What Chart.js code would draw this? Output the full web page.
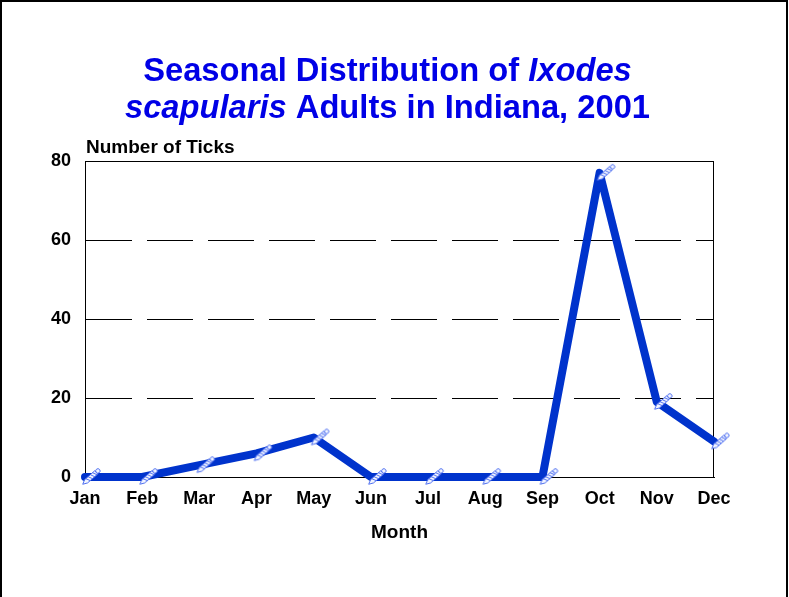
<!DOCTYPE html>
<html>
<head>
<meta charset="utf-8">
<title>Seasonal Distribution of Ixodes scapularis Adults in Indiana, 2001</title>
<script src="https://cdn.jsdelivr.net/npm/chart.js@4/dist/chart.umd.min.js"></script>
<style>
  html, body { margin: 0; padding: 0; background: #fff; }
  #wrap { position: relative; width: 789px; height: 597px; }
</style>
</head>
<body>
<div id="wrap"><canvas id="tickChart" width="789" height="597"></canvas></div>
<script>
const months = ['Jan', 'Feb', 'Mar', 'Apr', 'May', 'Jun', 'Jul', 'Aug', 'Sep', 'Oct', 'Nov', 'Dec'];
const tickCounts = [0, 0, 3, 6, 10, 0, 0, 0, 0, 77, 19, 9];
const yTicks = [0, 20, 40, 60, 80];

const FONT = '"Liberation Sans", Arial, Helvetica, sans-serif';
const LINE_BLUE = '#0033CC';
const TITLE_BLUE = '#0000E6';

// little pencil glyph used as the point marker
function makePencil() {
    const c = document.createElement('canvas');
    c.width = 40; c.height = 28;
    const g = c.getContext('2d');
    g.translate(26, 14);
    g.rotate(-0.72);
    g.strokeStyle = '#4a6cf0';
    g.fillStyle = '#f2f5ff';
    g.lineWidth = 0.9;
    g.beginPath();
    g.moveTo(-11, 0);
    g.lineTo(-6.5, -2.2);
    g.lineTo(7, -2.2);
    g.lineTo(7, 2.2);
    g.lineTo(-6.5, 2.2);
    g.closePath();
    g.fill();
    g.stroke();
    for (let x = -5; x < 7; x += 3) {
        g.beginPath();
        g.moveTo(x, -2.2);
        g.lineTo(x + 2, 2.2);
        g.stroke();
    }
    g.beginPath();
    g.arc(9.2, 0, 2.2, 0, Math.PI * 2);
    g.fill();
    g.stroke();
    return c;
}

// frame, plot box, headline and y axis caption
const decorations = {
    id: 'decorations',
    beforeDatasetsDraw(chart) {
        const { ctx, chartArea: a } = chart;
        ctx.save();
        ctx.strokeStyle = '#000';
        ctx.lineWidth = 1;
        ctx.strokeRect(a.left + 0.5, a.top + 0.5, a.right - a.left - 1, a.bottom - a.top);
        ctx.restore();
    },
    afterDraw(chart) {
        const { ctx } = chart;
        ctx.save();
        ctx.strokeStyle = '#000';
        ctx.lineWidth = 2;
        ctx.strokeRect(1, 1, 786, 610);

        const size = 32.7;
        const bold = `bold ${size}px ${FONT}`;
        const italic = `italic bold ${size}px ${FONT}`;
        const lines = [
            { y: 81, runs: [['Seasonal Distribution of ', bold], ['Ixodes', italic]] },
            { y: 118, runs: [['scapularis', italic], [' Adults in Indiana, 2001', bold]] }
        ];
        ctx.fillStyle = TITLE_BLUE;
        ctx.textBaseline = 'alphabetic';
        ctx.textAlign = 'left';
        lines.forEach(line => {
            const widths = line.runs.map(([t, f]) => { ctx.font = f; return ctx.measureText(t).width; });
            let x = 387.5 - widths.reduce((s, w) => s + w, 0) / 2;
            line.runs.forEach(([t, f], i) => {
                ctx.font = f;
                ctx.fillText(t, x, line.y);
                x += widths[i];
            });
        });

        ctx.fillStyle = '#000';
        ctx.font = `bold 19px ${FONT}`;
        ctx.fillText('Number of Ticks', 86, 153);
        ctx.restore();
    }
};

const ctx = document.getElementById('tickChart').getContext('2d');
new Chart(ctx, {
    type: 'line',
    data: {
        labels: months,
        datasets: [{
            data: tickCounts,
            borderColor: LINE_BLUE,
            borderWidth: 8,
            borderCapStyle: 'round',
            borderJoinStyle: 'round',
            tension: 0,
            pointStyle: makePencil(),
            pointRadius: 10,
            pointHoverRadius: 10,
            clip: false
        }]
    },
    options: {
        responsive: false,
        animation: false,
        events: [],
        layout: { padding: { top: 161, right: 75, bottom: 50, left: 0 } },
        plugins: {
            legend: { display: false },
            title: { display: false },
            tooltip: { enabled: false }
        },
        scales: {
            x: {
                offset: false,
                grid: { display: false, drawTicks: false },
                border: { display: true, color: '#000', width: 1 },
                ticks: {
                    color: '#000',
                    font: { family: FONT, size: 18, weight: 'bold' },
                    padding: 11,
                    maxRotation: 0,
                    autoSkip: false
                },
                title: {
                    display: true,
                    text: 'Month',
                    color: '#000',
                    font: { family: FONT, size: 19, weight: 'bold' },
                    padding: { top: 0, bottom: 3 }
                },
                afterFit(scale) { scale.height = 70; }
            },
            y: {
                min: yTicks[0],
                max: yTicks[yTicks.length - 1],
                afterBuildTicks(scale) { scale.ticks = yTicks.map(v => ({ value: v })); },
                grid: { color: '#000', lineWidth: 1, drawTicks: false },
                border: { display: true, color: '#000', width: 1, dash: [46, 15] },
                ticks: {
                    color: '#000',
                    font: { family: FONT, size: 18, weight: 'bold' },
                    padding: 14
                },
                afterFit(scale) { scale.width = 85; }
            }
        }
    },
    plugins: [decorations]
});
</script>
</body>
</html>
